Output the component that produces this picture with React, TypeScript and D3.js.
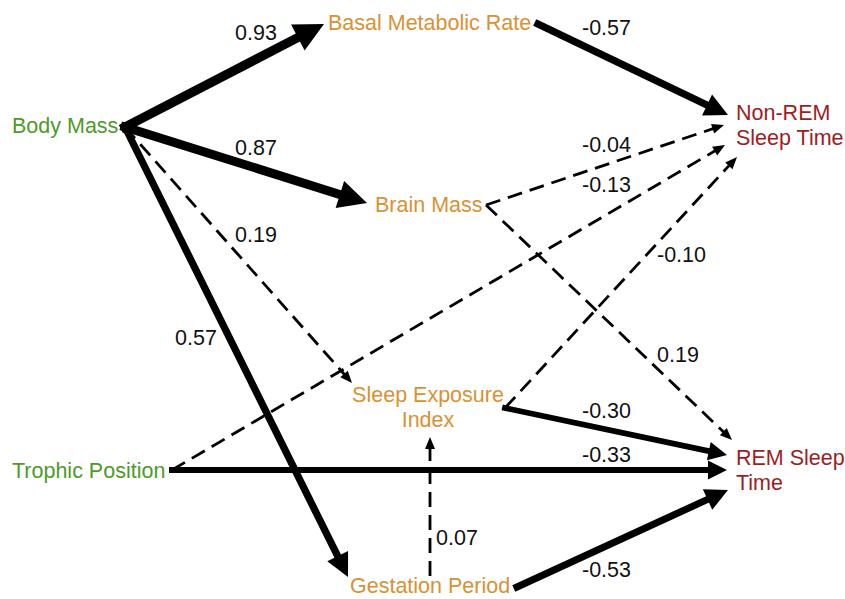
import React from "react";
import * as d3 from "d3";

// Path model: variables grouped by role
const exogenous = ["Body Mass", "Trophic Position"];
const mediators = ["Basal Metabolic Rate", "Brain Mass", "Sleep Exposure Index", "Gestation Period"];
const responses = ["Non-REM Sleep Time", "REM Sleep Time"];

// Paths: source, target, standardized coefficient, significance
const sources = [
  "Body Mass", "Body Mass", "Body Mass", "Body Mass",
  "Basal Metabolic Rate", "Brain Mass", "Brain Mass",
  "Trophic Position", "Trophic Position",
  "Sleep Exposure Index", "Sleep Exposure Index",
  "Gestation Period", "Gestation Period",
];
const targets = [
  "Basal Metabolic Rate", "Brain Mass", "Sleep Exposure Index", "Gestation Period",
  "Non-REM Sleep Time", "Non-REM Sleep Time", "REM Sleep Time",
  "Non-REM Sleep Time", "REM Sleep Time",
  "Non-REM Sleep Time", "REM Sleep Time",
  "Sleep Exposure Index", "REM Sleep Time",
];
const coefficients = [0.93, 0.87, 0.19, 0.57, -0.57, -0.04, 0.19, -0.13, -0.33, -0.10, -0.30, 0.07, -0.53];
const significant = [true, true, false, true, true, false, false, false, true, false, true, false, true];

// ---- layout ----
const W = 845;
const H = 599;
const FONT = "'Liberation Sans', Arial, Helvetica, sans-serif";
const FS = 21.5;

const colorByRole = { exo: "#4e9a2a", med: "#d99134", resp: "#a01c22" };

type NodeLayout = { lines: string[]; x: number; y: number; anchor: "start" | "middle" };
const nodeLayout: Record<string, NodeLayout> = {
  "Body Mass": { lines: ["Body Mass"], x: 12, y: 133, anchor: "start" },
  "Trophic Position": { lines: ["Trophic Position"], x: 12, y: 478, anchor: "start" },
  "Basal Metabolic Rate": { lines: ["Basal Metabolic Rate"], x: 328, y: 30, anchor: "start" },
  "Brain Mass": { lines: ["Brain Mass"], x: 375, y: 212, anchor: "start" },
  "Sleep Exposure Index": { lines: ["Sleep Exposure", "Index"], x: 428, y: 402, anchor: "middle" },
  "Gestation Period": { lines: ["Gestation Period"], x: 350, y: 593, anchor: "start" },
  "Non-REM Sleep Time": { lines: ["Non-REM", "Sleep Time"], x: 736, y: 120, anchor: "start" },
  "REM Sleep Time": { lines: ["REM Sleep", "Time"], x: 736, y: 465, anchor: "start" },
};

// Start point and arrow tip of each path, and where its coefficient sits
const pathGeometry: { from: [number, number]; to: [number, number]; label: [number, number] }[] = [
  { from: [125, 127], to: [324, 24], label: [235, 40] },
  { from: [125, 127], to: [367, 203], label: [235, 155] },
  { from: [125, 127], to: [352, 383], label: [235, 242] },
  { from: [125, 127], to: [348, 577], label: [175, 345] },
  { from: [538, 24], to: [728, 115], label: [582, 35] },
  { from: [486, 205], to: [724, 125], label: [582, 152] },
  { from: [486, 205], to: [732, 440], label: [657, 362] },
  { from: [172, 470], to: [725, 145], label: [582, 192] },
  { from: [172, 470], to: [727, 470], label: [582, 462] },
  { from: [505, 408], to: [737, 157], label: [657, 262] },
  { from: [505, 408], to: [727, 455], label: [582, 418] },
  { from: [430, 576], to: [430, 437], label: [436, 545] },
  { from: [517, 587], to: [728, 490], label: [582, 577] },
];

// Line weight grows with the strength of a significant path
const widthScale = d3.scaleLinear().domain([0.3, 0.93]).range([5.8, 9.2]);

function roleColor(name: string) {
  if (exogenous.includes(name)) return colorByRole.exo;
  if (mediators.includes(name)) return colorByRole.med;
  return colorByRole.resp;
}

function fmt(v: number) {
  return (v < 0 ? "-" : "") + d3.format(".2f")(Math.abs(v));
}

const line = d3.line<[number, number]>();

export default function App() {
  const edges = coefficients.map((c, i) => {
    const g = pathGeometry[i];
    const sig = significant[i];
    const w = sig ? widthScale(Math.abs(c)) : 2.8;
    const headLen = sig ? w * 3.2 : 12;
    const headHalf = sig ? w * 1.6 : 5;
    const [x0, y0] = g.from;
    const [x1, y1] = g.to;
    const dx = x1 - x0;
    const dy = y1 - y0;
    const len = Math.hypot(dx, dy);
    const ux = dx / len;
    const uy = dy / len;
    const bx = x1 - ux * headLen;
    const by = y1 - uy * headLen;
    const shaftEnd: [number, number] = [x1 - ux * (headLen - 2), y1 - uy * (headLen - 2)];
    const head: [number, number][] = [
      [x1, y1],
      [bx - uy * headHalf, by + ux * headHalf],
      [bx + uy * headHalf, by - ux * headHalf],
    ];
    return { i, c, sig, w, shaft: [g.from, shaftEnd] as [number, number][], head, label: g.label };
  });

  return (
    <svg width={W} height={H} style={{ display: "block", position: "absolute", left: 0, top: 0 }}>
      <rect width={W} height={H} fill="#ffffff" />
      <g>
        {edges.map((e) => (
          <g key={`${sources[e.i]}-${targets[e.i]}`}>
            <path
              d={line(e.shaft) || ""}
              stroke="#000"
              strokeWidth={e.w}
              strokeDasharray={e.sig ? undefined : "15,8"}
              strokeLinecap={e.sig ? "square" : "butt"}
              fill="none"
            />
            <path d={(line(e.head) || "") + "Z"} fill="#000" />
          </g>
        ))}
      </g>
      <g fontFamily={FONT} fontSize={FS}>
        {edges.map((e) => (
          <text key={`lab-${e.i}`} x={e.label[0]} y={e.label[1]} fill="#111">
            {fmt(e.c)}
          </text>
        ))}
      </g>
      <g fontFamily={FONT} fontSize={FS}>
        {[...exogenous, ...mediators, ...responses].map((name) => {
          const n = nodeLayout[name];
          return (
            <text key={name} x={n.x} y={n.y} textAnchor={n.anchor} fill={roleColor(name)}>
              {n.lines.map((ln, k) => (
                <tspan key={k} x={n.x} dy={k === 0 ? 0 : 25}>
                  {ln}
                </tspan>
              ))}
            </text>
          );
        })}
      </g>
    </svg>
  );
}
